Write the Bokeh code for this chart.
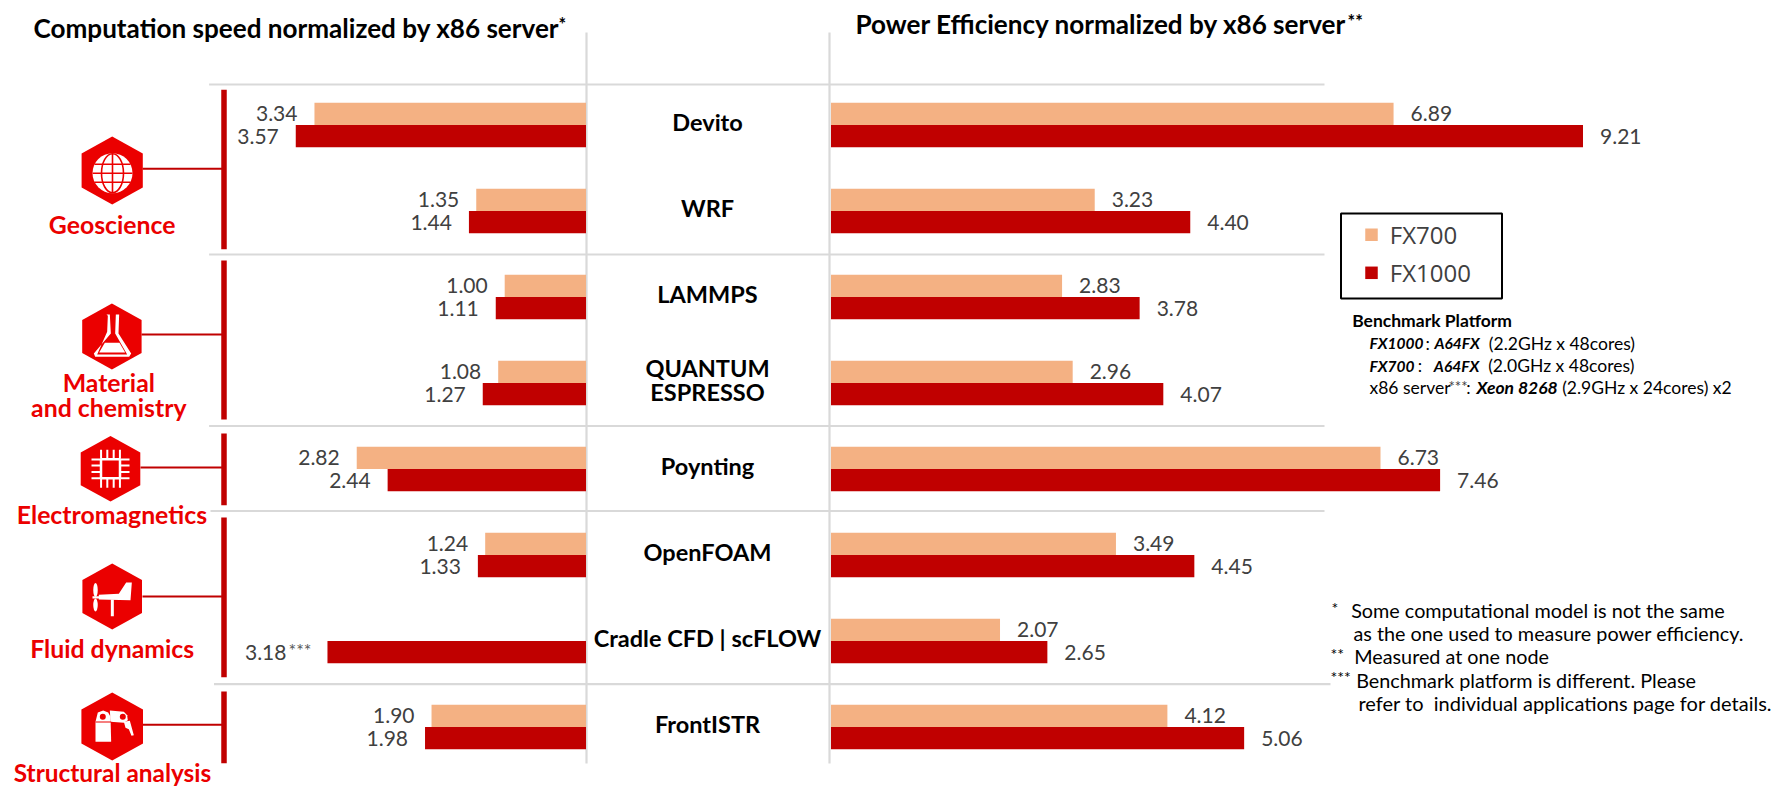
from bokeh.plotting import figure
from bokeh.models import Range1d
from bokeh.core.properties import value
from bokeh.embed import file_html
from bokeh.resources import INLINE

apps = ["Devito", "WRF", "LAMMPS", "QUANTUM\nESPRESSO", "Poynting", "OpenFOAM", "Cradle CFD | scFLOW", "FrontISTR"]
speed_fx700 = [3.34, 1.35, 1.00, 1.08, 2.82, 1.24, None, 1.90]
speed_fx1000 = [3.57, 1.44, 1.11, 1.27, 2.44, 1.33, 3.18, 1.98]
power_fx700 = [6.89, 3.23, 2.83, 2.96, 6.73, 3.49, 2.07, 4.12]
power_fx1000 = [9.21, 4.40, 3.78, 4.07, 7.46, 4.45, 2.65, 5.06]
speed_notes = ["", "", "", "", "", "", "***", ""]
series_names = ["FX700", "FX1000"]
groups = ["Geoscience", "Material\nand chemistry", "Electromagnetics", "Fluid dynamics", "Structural analysis"]

PEACH, DARK, RED, GRID, GREY = "#F4B183", "#C00000", "#EB0000", "#D9D9D9", "#404040"
FONT = "Lato"
W, H, OFF = 1775, 788, 0
L0, LK = 585.5, 81.3      # left panel: zero and pixels per unit
R0, RK = 830.5, 81.65     # right panel
Y0, YK = 124.5, 86.0      # first row and row pitch
BAR = 22.3 / YK

p = figure(width=W, height=H, output_backend="svg", toolbar_location=None, min_border=0,
           x_axis_type=None, y_axis_type=None, outline_line_color=None,
           x_range=Range1d((OFF - R0) / RK, (OFF + W - R0) / RK),
           y_range=Range1d((OFF + H - Y0) / YK, (OFF - Y0) / YK))
p.grid.visible = False
p.extra_x_ranges = {"speed": Range1d((L0 - OFF) / LK, (L0 - OFF - W) / LK), "px": Range1d(OFF, OFF + W)}
p.extra_y_ranges = {"px": Range1d(OFF + H, OFF)}
PX = dict(x_range_name="px", y_range_name="px")


def txt(x, y, s, size, color="#000000", style="normal", align="left", font=FONT):
    p.text([x], [y], text=[s], text_font=value(font), text_font_size=f"{size}px", text_color=color,
           text_font_style=style, text_align=align, text_baseline="middle", **PX)


def poly(xs, ys, color="#FFFFFF", ox=0, oy=0):
    p.patch([ox + a / 3 for a in xs], [oy + b / 3 for b in ys], fill_color=color, line_color=None, **PX)


# separators
p.segment([586, 829], [32, 32], [586, 829], [763, 763], line_color=GRID, line_width=2.2, **PX)
p.segment([208.6, 208.6, 208.6, 210, 213.5], [84, 254, 425.5, 510.5, 683.7],
          [1324, 1324, 1324, 1324, 1330], [84, 254, 425.5, 510.5, 683.7],
          line_color=GRID, line_width=2.2, **PX)

# bars
rows = list(range(len(apps)))
for values, off, col in ((speed_fx700, -BAR / 2, PEACH), (speed_fx1000, BAR / 2, DARK)):
    r = [i for i in rows if values[i] is not None]
    p.hbar(y=[i + off for i in r], left=0, right=[values[i] for i in r], height=BAR,
           fill_color=col, line_color=None, x_range_name="speed")
    p.text(x=[values[i] for i in r], y=[i + off for i in r], text=[f"{values[i]:.2f}" for i in r],
           x_offset=[-41 if speed_notes[i] and off > 0 else -17 for i in r], text_align="right",
           text_baseline="middle", text_font=value(FONT), text_font_size="21px", text_color=GREY,
           x_range_name="speed")
for values, off, col in ((power_fx700, -BAR / 2, PEACH), (power_fx1000, BAR / 2, DARK)):
    p.hbar(y=[i + off for i in rows], left=0, right=values, height=BAR, fill_color=col, line_color=None)
    p.text(x=values, y=[i + off for i in rows], text=[f"{v:.2f}" for v in values], x_offset=17,
           text_align="left", text_baseline="middle", text_font=value(FONT), text_font_size="21px",
           text_color=GREY)
txt(288, 649, "***", 18, "#595959")

# application names
for i, a in enumerate(apps):
    lines = a.split("\n")
    for j, line in enumerate(lines):
        p.text([707], [i + (j - (len(lines) - 1) / 2) * 24 / YK - 3 / YK], text=[line], text_align="center",
               text_baseline="middle", text_font=value(FONT), text_font_style="bold",
               text_font_size="23.5px", text_color="#000000", x_range_name="px")

# titles
txt(33, 27, "Computation speed normalized by x86 server", 26.1, style="bold")
txt(558, 23, "*", 18, style="bold")
txt(855, 23, "Power Efficiency normalized by x86 server", 26.1, style="bold")
txt(1347, 20, "**", 18, style="bold")

# group brackets and hexagons
p.segment([223.5] * 5, [89.3, 260, 433, 517, 691], [223.5] * 5, [248.7, 419, 504.7, 676.7, 762.7],
          line_color=DARK, line_width=5.5, **PX)
p.segment([142, 141, 140, 142, 142], [168.3, 334, 467, 596, 724.3], [222] * 5, [168.3, 334, 467, 596, 724.3],
          line_color=DARK, line_width=2, **PX)
for cx, cy, r, hw in ((111.7, 170, 34, 30.6), (111.4, 336, 33, 29.7), (110, 468.3, 32.7, 29.8),
                      (111.7, 596, 33, 29.8), (111.7, 726, 34, 30.8)):
    p.patch([cx, cx + hw, cx + hw, cx, cx - hw, cx - hw],
            [cy - r, cy - r / 2, cy + r / 2, cy + r, cy + r / 2, cy - r / 2],
            fill_color=RED, line_color=None, **PX)

# globe icon
gx, gy = 112, 172.7
p.circle([gx], [gy], radius=20, fill_color="#FFFFFF", line_color=None, **PX)
p.ellipse([gx], [gy], width=22, height=39, fill_color=None, line_color=RED, line_width=1.6, **PX)
p.segment([gx, gx - 18, gx - 20, gx - 18], [gy - 20, gy - 9, gy, gy + 9], [gx, gx + 18, gx + 20, gx + 18],
          [gy + 20, gy - 9, gy, gy + 9], line_color=RED, line_width=1.6, **PX)

# flask icon
poly([108, 118, 121, 70, 74, 176, 182, 144, 146, 136, 134, 170, 80, 110, 112, 108],
     [48, 48, 105, 165, 175, 175, 165, 105, 48, 48, 105, 168, 168, 100, 52, 48], ox=70, oy=298)
poly([103, 147, 164, 86], [133, 133, 162, 162], ox=70, oy=298)

# chip icon
cx, cy = 110, 468.3
p.quad(left=[cx - 9.5], right=[cx + 9.5], top=[cy - 9.5], bottom=[cy + 9.5], fill_color=None,
       line_color="#FFFFFF", line_width=2.5, **PX)
for d in (-6.5, -2.2, 2.2, 6.5):
    p.segment([cx + d * 1.45, cx + d * 1.45, cx - 19, cx + 10], [cy - 19, cy + 10, cy + d * 1.45, cy + d * 1.45],
              [cx + d * 1.45, cx + d * 1.45, cx - 10, cx + 19], [cy - 10, cy + 19, cy + d * 1.45, cy + d * 1.45],
              line_color="#FFFFFF", line_width=2, **PX)

# wind vane icon
poly([85, 145, 167, 184, 180, 85], [109, 106, 72, 72, 125, 123], ox=70, oy=558)
poly([121, 130, 130, 121], [123, 123, 173, 173], ox=70, oy=558)
poly([66, 86, 86, 66], [113, 113, 120, 120], ox=70, oy=558)
p.ellipse([95, 95], [589.5, 604.5], width=[4.5, 4.5], height=[14, 13],
          fill_color="#FFFFFF", line_color=None, **PX)

# robot icon
poly([75, 82, 98, 113, 120, 122, 75], [100, 72, 66, 72, 85, 160, 160], ox=70, oy=688)
poly([118, 160, 170, 172, 160, 120], [66, 70, 80, 95, 103, 100], ox=70, oy=688)
poly([160, 178, 190, 183, 175, 165], [100, 97, 140, 142, 122, 118], ox=70, oy=688)
poly([75, 122, 122, 75], [99, 99, 102, 102], RED, ox=70, oy=688)
p.circle([102.3, 122.3], [716.3, 716.3], radius=3, fill_color=RED, line_color=None, **PX)

# group names
names = [n for g in groups for n in g.split("\n")]
for n, x, y, s in zip(names, (111.7, 108.3, 108.3, 111.4, 111.7, 112), (224, 382, 407, 514, 648, 772),
                      (24.8, 24.8, 24.8, 24.8, 24.8, 24.4)):
    txt(x, y, n, s, RED, "bold", "center")

# legend
p.quad(left=[1340.5], right=[1501.5], top=[213], bottom=[298], fill_color=None, line_color="#000000",
       line_width=2, **PX)
p.scatter([1371, 1371], [234.3, 272.3], marker="square", size=12.5, color=[PEACH, DARK], line_color=None, **PX)
for name, y in zip(series_names, (234.3, 272.3)):
    txt(1389.3, y, name, 24, GREY, font="Open Sans")

# benchmark notes
txt(1351.7, 320, "Benchmark Platform", 17.5, style="bold")
for x, y, s, st, sz in ((207, 342.7, "FX1000", "bold italic", 15.5), (375, 342.7, ":", "normal", 17.5),
                        (402, 342.7, "A64FX", "bold italic", 15.5), (565, 342.7, "(2.2GHz x 48cores)", "normal", 17.5),
                        (207, 365, "FX700", "bold italic", 15.5), (352, 365, ":", "normal", 17.5),
                        (400, 365, "A64FX", "bold italic", 15.5), (563, 365, "(2.0GHz x 48cores)", "normal", 17.5),
                        (207, 387.3, "x86 server", "normal", 17.5), (497, 387.3, ":", "normal", 17.5),
                        (528, 387.3, "Xeon 8268", "bold italic", 17.5), (785, 387.3, "(2.9GHz x 24cores) x2", "normal", 17.5)):
    txt(1300 + x / 3, y, s, sz, style=st)
txt(1448, 385, "***", 15, "#404040")

# footnotes
for x, y, s, size in ((1331, 607, "*", 16), (1350.7, 609, "Some computational model is not the same", 19.8),
                      (1353, 632.7, "as the one used to measure power efficiency.", 19.8),
                      (1330, 653, "**", 16), (1353.7, 655.7, "Measured at one node", 19.8),
                      (1330, 676, "***", 16), (1355.7, 679, "Benchmark platform is different. Please", 19.8),
                      (1358, 702, "refer to \u00a0individual applications page for details.", 20)):
    txt(x, y, s, size)

open("out.html", "w").write(file_html(p, INLINE))
